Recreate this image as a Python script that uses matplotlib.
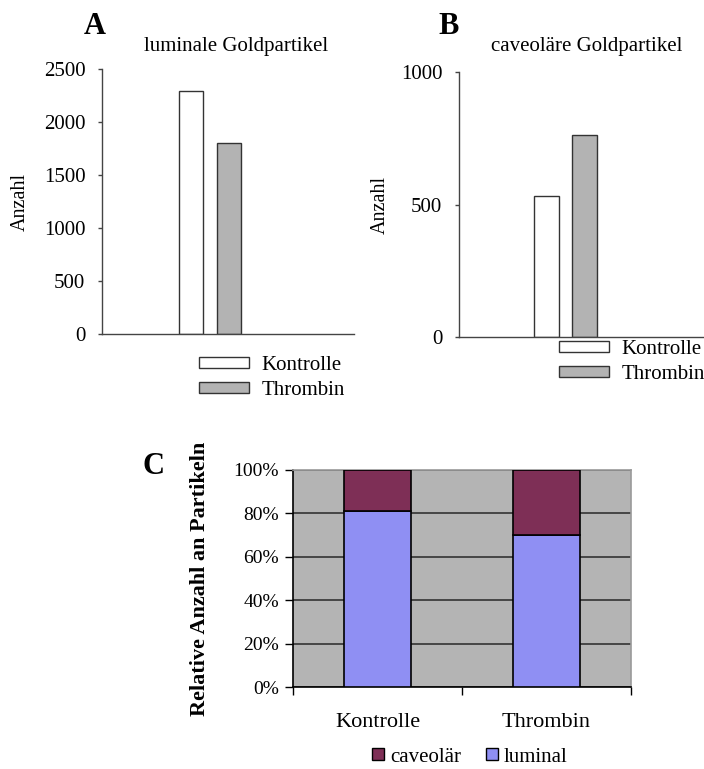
import matplotlib

matplotlib.use("Agg")
import matplotlib.pyplot as plt
from matplotlib.patches import Patch

plt.rcParams["font.family"] = ["Liberation Serif", "DejaVu Serif"]

# --- data ---
groups = ["Kontrolle", "Thrombin"]
luminal_counts = [2290, 1805]      # panel A
caveolar_counts = [532, 762]       # panel B
luminal_pct = [81, 70]             # panel C (share of luminal particles)
caveolar_pct = [19, 30]

fill_groups = ["white", "#B3B3B3"]
EDGE = "#333333"
W, H = 704, 769


def fx(px):
    return px / W


def fy(py):
    return 1 - py / H


fig = plt.figure(figsize=(W / 100, H / 100), dpi=100)


def count_panel(rect, values, ymax, yticks, title, title_xy, letter, letter_xy,
                xlim, width, legend_xy):
    ax = fig.add_axes(rect)
    for i, (v, c) in enumerate(zip(values, fill_groups)):
        ax.bar(i, v, width=width, color=c, edgecolor=EDGE, linewidth=1.0)
    ax.set_xlim(*xlim)
    ax.set_ylim(0, ymax)
    ax.set_yticks(yticks)
    ax.set_xticks([])
    for s in ("top", "right"):
        ax.spines[s].set_visible(False)
    for s in ("left", "bottom"):
        ax.spines[s].set_color("#444444")
        ax.spines[s].set_linewidth(1.0)
    ax.tick_params(axis="y", length=3, width=1, color="#444444",
                   labelsize=15, pad=9)
    ax.set_ylabel("Anzahl", fontsize=14.5)
    fig.text(*title_xy, title, fontsize=15, ha="center", va="center")
    fig.text(*letter_xy, letter, fontsize=22, fontweight="bold",
             ha="center", va="center")
    handles = [Patch(facecolor=c, edgecolor=EDGE, linewidth=1.0)
               for c in fill_groups]
    ax.legend(handles, groups, loc="upper left", bbox_to_anchor=legend_xy,
              bbox_transform=fig.transFigure, frameon=False, fontsize=15,
              handlelength=2.4, handleheight=0.45, handletextpad=0.6,
              labelspacing=0.3, borderpad=0, borderaxespad=0)
    return ax


axA = count_panel(
    [fx(102), fy(334), fx(354) - fx(102), fy(69) - fy(334)],
    luminal_counts, 2500, [0, 500, 1000, 1500, 2000, 2500],
    "luminale Goldpartikel", (fx(236), fy(47)), "A", (fx(95), fy(27)),
    (-2.34, 4.29), 0.63, (fx(199), fy(356)))
axA.yaxis.set_label_coords(-(102 - 30) / 252, 0.5)

axB = count_panel(
    [fx(459), fy(337), 1 - fx(459), fy(72) - fy(337)],
    caveolar_counts, 1000, [0, 500, 1000],
    "caveoläre Goldpartikel", (fx(587), fy(47)), "B", (fx(449), fy(26)),
    (-2.30, 4.14), 0.66, (fx(559), fy(340)))
axB.yaxis.set_label_coords(-(459 - 390) / 245, 0.5)

# --- panel C: relative distribution ---
axC = fig.add_axes([fx(293), fy(687), fx(631) - fx(293), fy(470) - fy(687)])
axC.set_facecolor("#B4B4B4")
x = range(len(groups))
axC.bar(x, luminal_pct, width=0.4, color="#8F8FF3", edgecolor="black",
        linewidth=1.2, label="luminal", zorder=3)
axC.bar(x, caveolar_pct, width=0.4, bottom=luminal_pct, color="#7E2F56",
        edgecolor="black", linewidth=1.2, label="caveolär", zorder=3)
axC.set_xlim(-0.5, len(groups) - 0.5)
axC.set_ylim(0, 100)
axC.set_yticks(range(0, 101, 20))
axC.set_yticklabels([f"{v}%" for v in range(0, 101, 20)])
axC.yaxis.grid(True, color="#333333", linewidth=1.2, zorder=1)
axC.set_axisbelow(True)
axC.set_xticks([-0.5, 0.5, 1.5])
axC.set_xticklabels([])
axC.set_xticks(list(x), minor=True)
axC.set_xticklabels(groups, minor=True, fontsize=16)
axC.tick_params(axis="x", which="major", length=6, width=1, direction="out")
axC.tick_params(axis="x", which="minor", length=0, pad=19)
axC.tick_params(axis="y", length=6, width=1, labelsize=14, pad=4)
for s in ("top", "right"):
    axC.spines[s].set_color("#9A9A9A")
    axC.spines[s].set_linewidth(1.2)
for s in ("left", "bottom"):
    axC.spines[s].set_color("black")
    axC.spines[s].set_linewidth(1.2)
axC.set_ylabel("Relative Anzahl an Partikeln", fontsize=16, fontweight="bold")
axC.yaxis.set_label_coords(-(293 - 210) / 338, 0.5)
fig.text(fx(153), fy(467), "C", fontsize=22, fontweight="bold",
         ha="center", va="center")

hC = [Patch(facecolor="#7E2F56", edgecolor="black", linewidth=1.0),
      Patch(facecolor="#8F8FF3", edgecolor="black", linewidth=1.0)]
fig.legend(hC, ["caveolär", "luminal"], loc="center",
           bbox_to_anchor=(fx(470), fy(757)), ncol=2, frameon=False,
           fontsize=15, handlelength=0.55, handleheight=0.55,
           handletextpad=0.3, columnspacing=1.2, borderpad=0)

fig.savefig("out.png", dpi=100)
